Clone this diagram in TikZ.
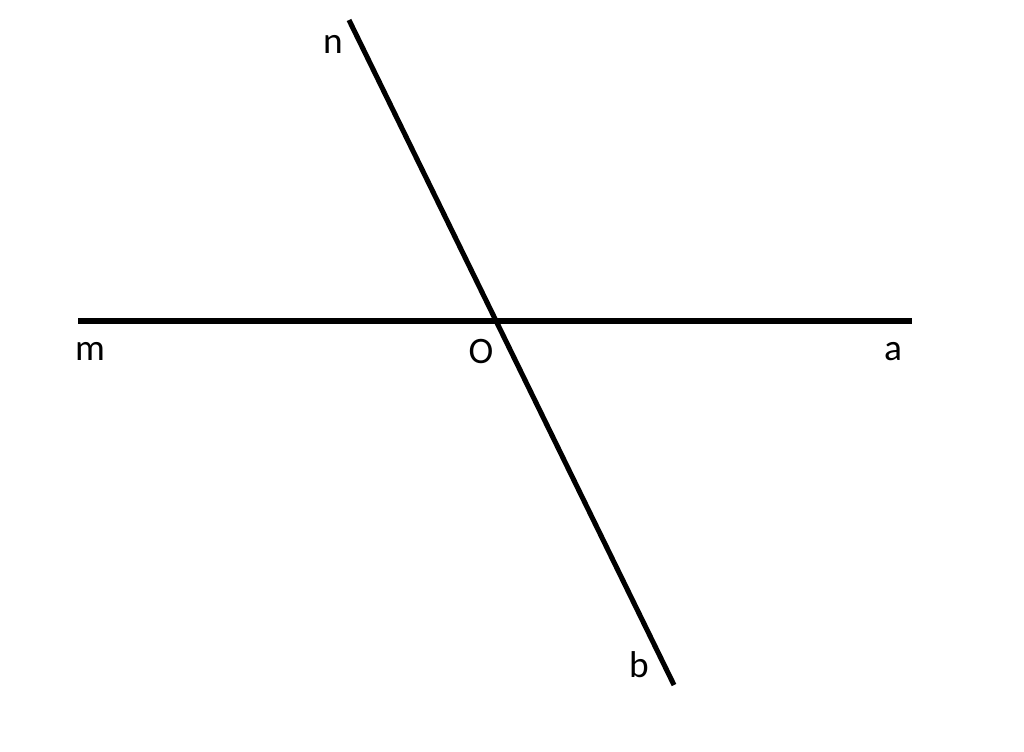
\documentclass[tikz,border=0pt]{standalone}
\usepackage{fontspec}
\setmainfont{Carlito}
\begin{document}
\begin{tikzpicture}[x=0.75pt,y=-0.75pt,
  ln/.style={line width=3.8pt},
  lbl/.style={font=\fontsize{28}{30}\selectfont, inner sep=0pt, anchor=base}]
\useasboundingbox (0,0) rectangle (1024,751);
\coordinate (M) at (78,321);
\coordinate (A) at (912,321);
\coordinate (N) at (349,20);
\coordinate (B) at (674,685);
\draw[ln] (M) -- (A);
\draw[ln] (N) -- (B);
\node[lbl] (ln) at (333,53) {n};
\node[lbl] (lm) at (90,360) {m};
\node[lbl] (lo) at (481,363) {O};
\node[lbl] (la) at (893,360) {a};
\node[lbl] (lb) at (639,677) {b};
\end{tikzpicture}
\end{document}
